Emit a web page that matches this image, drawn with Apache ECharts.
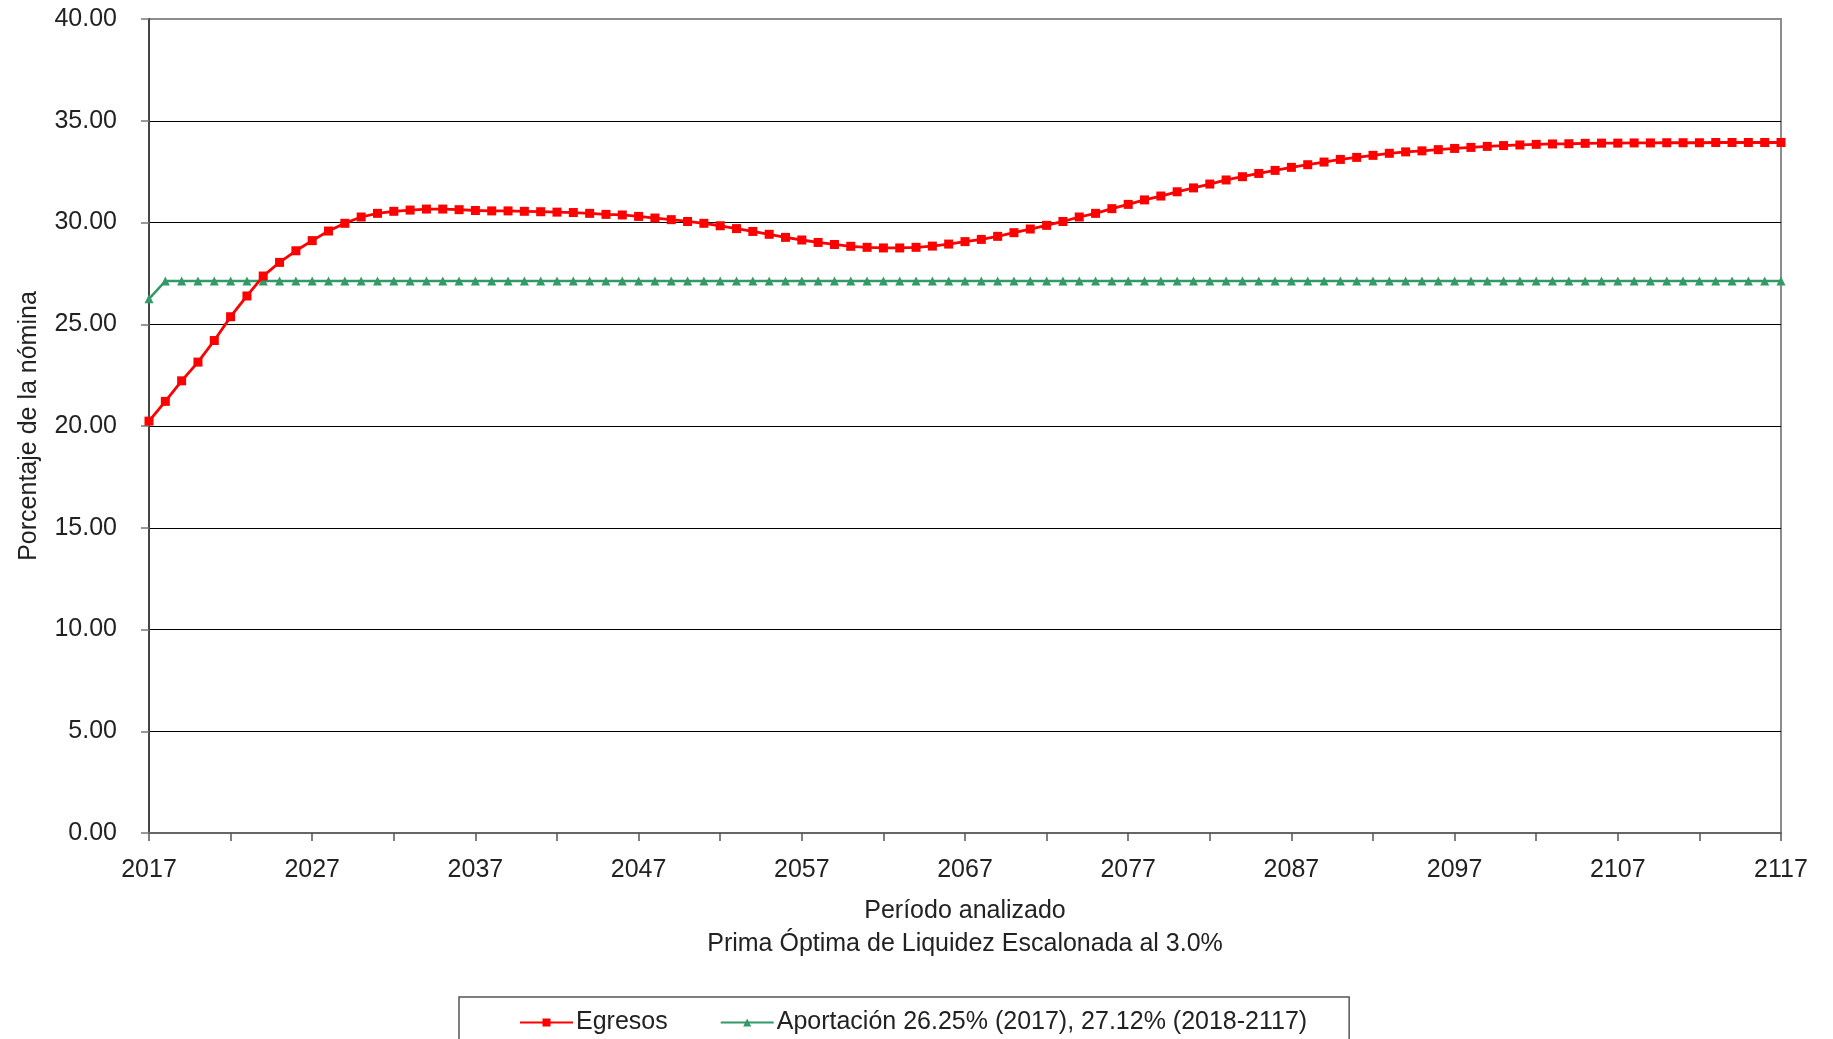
<!DOCTYPE html>
<html>
<head>
<meta charset="utf-8">
<script src="https://cdn.jsdelivr.net/npm/echarts@6/dist/echarts.min.js"></script>
<style>
html,body{margin:0;padding:0;background:#fff;}
#c{width:1833px;height:1039px;}
</style>
</head>
<body>
<div id="c"></div>
<script>
const years = [];
for (let y = 2017; y <= 2117; y++) years.push(String(y));

const egresos = [
  20.24, 21.21, 22.22, 23.14, 24.20, 25.37, 26.39, 27.37, 28.04, 28.61,
  29.11, 29.58, 29.96, 30.27, 30.45, 30.55, 30.61, 30.66, 30.66, 30.63,
  30.59, 30.57, 30.57, 30.55, 30.53, 30.51, 30.49, 30.45, 30.40, 30.37,
  30.30, 30.22, 30.14, 30.05, 29.96, 29.84, 29.70, 29.56, 29.42, 29.27,
  29.14, 29.02, 28.92, 28.83, 28.78, 28.75, 28.75, 28.78, 28.84, 28.94,
  29.06, 29.17, 29.32, 29.50, 29.68, 29.86, 30.05, 30.27, 30.45, 30.68,
  30.89, 31.11, 31.30, 31.51, 31.70, 31.89, 32.09, 32.25, 32.41, 32.56,
  32.71, 32.84, 32.97, 33.10, 33.20, 33.30, 33.40, 33.47, 33.52, 33.58,
  33.64, 33.69, 33.74, 33.78, 33.81, 33.84, 33.86, 33.87, 33.89, 33.90,
  33.90, 33.91, 33.91, 33.92, 33.92, 33.92, 33.93, 33.93, 33.93, 33.93,
  33.93
];

const aportacion = [26.25].concat(new Array(100).fill(27.12));

const seriesNames = ['Egresos', 'Aportación 26.25% (2017), 27.12% (2018-2117)'];
const xTitle = 'Período analizado\nPrima Óptima de Liquidez Escalonada al 3.0%';
const yTitle = 'Porcentaje de la nómina';

const FONT = 'Liberation Sans';
const FS = 25;
const chart = echarts.init(document.getElementById('c'), null, {renderer: 'canvas'});

chart.setOption({
  animation: false,
  backgroundColor: '#fff',
  textStyle: {fontFamily: FONT},
  grid: {
    left: 149, right: 52, top: 19, bottom: 206,
    show: true, borderColor: '#8c8c8c', borderWidth: 2, backgroundColor: 'transparent'
  },
  legend: {
    left: 459, top: 997,
    padding: [13, 42, 40, 60],
    borderColor: '#555', borderWidth: 1.5,
    itemGap: 52, itemWidth: 53, itemHeight: 10,
    textStyle: {fontFamily: FONT, fontSize: FS, color: '#222', padding: [0, 0, 0, -2]},
    data: seriesNames
  },
  xAxis: {
    type: 'category', data: years, boundaryGap: false,
    name: xTitle, nameLocation: 'middle', nameGap: 62,
    nameTextStyle: {fontFamily: FONT, fontSize: FS, color: '#222', lineHeight: 33},
    axisLine: {show: true, lineStyle: {color: '#666', width: 2}},
    axisTick: {show: true, interval: 4, length: 8, lineStyle: {color: '#555', width: 1.5}},
    axisLabel: {fontFamily: FONT, fontSize: FS, color: '#222', margin: 25, interval: 9},
    splitLine: {show: false}
  },
  yAxis: {
    type: 'value', min: 0, max: 40, interval: 5,
    name: yTitle, nameLocation: 'middle', nameGap: 107, nameRotate: 90,
    nameTextStyle: {fontFamily: FONT, fontSize: FS, color: '#222'},
    axisLine: {show: true, lineStyle: {color: '#444', width: 2}},
    axisTick: {show: true, length: 8, lineStyle: {color: '#777', width: 1.5}},
    axisLabel: {fontFamily: FONT, fontSize: FS, color: '#222', margin: 32,
      formatter: v => v.toFixed(2)},
    splitLine: {show: true, lineStyle: {color: ['#777','#000','#000','#000','#000','#000','#000','#000','#8c8c8c'], width: 1.2}}
  },
  series: [
    {
      name: seriesNames[0], type: 'line',
      data: egresos,
      symbol: 'rect', symbolSize: 9,
      lineStyle: {color: '#ff0000', width: 2.8},
      itemStyle: {color: '#ff0000'},
      z: 3
    },
    {
      name: seriesNames[1], type: 'line',
      data: aportacion,
      symbol: 'triangle', symbolSize: 9,
      lineStyle: {color: '#339966', width: 2.5},
      itemStyle: {color: '#339966'},
      z: 2
    }
  ]
});
</script>
</body>
</html>
